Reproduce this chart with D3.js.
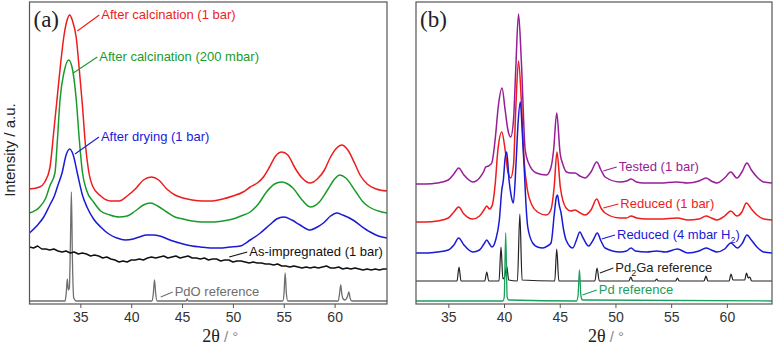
<!DOCTYPE html>
<html>
<head>
<meta charset="utf-8">
<script src="https://cdn.jsdelivr.net/npm/d3@7"></script>
<style>
  body { margin: 0; background: #fff; }
  svg { display: block; font-family: "Liberation Sans", Arial, sans-serif; }
</style>
</head>
<body>
<div id="xrd"></div>
<script>
// ---- panel (a): PdO catalysts, [2theta, intensity] ----
const calc1bar = [[30,115],[31,117],[31.5,122],[32,136],[32.4,174],[32.7,204],[33.1,244],[33.4,269],[33.7,284],[33.95,289],[34.2,284],[34.6,266],[34.9,234],[35.2,199],[35.5,159],[35.8,134],[36.2,118],[37,108],[38,103],[38.8,103],[39.6,108],[40.5,116],[41.2,124],[42,127],[42.7,124],[43.5,115],[44.3,109],[45.1,106],[46,104],[47,103],[48,103],[49,105],[50,108],[51,112],[51.7,117],[52.4,121],[53,127],[53.6,137],[54.2,148],[54.8,152],[55.4,149],[56.1,136],[56.8,126],[57.6,121],[58.3,125],[59,134],[59.6,147],[60.2,156],[60.7,159],[61.3,154],[62,140],[62.5,129],[63.2,120],[64.1,115],[65.15,113]];
const calc200 = [[30,91],[31,97],[31.6,106],[32,118],[32.5,131],[32.75,165],[33,204],[33.4,232],[33.85,244],[34.2,236],[34.6,204],[34.9,164],[35.2,132],[35.6,114],[36.3,102],[37,93],[37.9,89],[38.8,87],[39.6,88],[40.4,93],[41.2,99],[41.9,101],[42.6,98],[43.5,92],[44.3,87],[45.1,85],[46,83],[47,82],[48,82],[49,83],[50,85],[50.8,88],[51.7,92],[52.5,100],[53.3,112],[54.1,120],[54.8,122],[55.4,120],[55.9,116],[56.8,104],[57.6,97],[58.5,102],[59.3,114],[60,125],[60.5,129],[61.1,126],[62.1,112],[62.8,102],[63.4,97],[64.3,93],[65.15,91]];
const dried = [[30,71],[30.7,78],[31.4,87],[32,99],[32.4,107],[32.8,119],[33.2,131],[33.6,149],[33.95,155],[34.3,149],[34.7,131],[35.2,109],[35.65,97],[36.3,85],[37,77],[37.8,70],[38.6,66],[39.4,64],[40.2,65],[40.8,67],[41.5,69],[42.2,69],[42.8,68],[43.8,64],[45.1,60],[46,58],[46.8,57],[47.8,56],[48.7,56],[49.7,57],[50.7,58],[51.7,64],[52.7,71],[53.6,79],[54.3,85],[55,87],[55.8,84],[56.6,79],[57.6,74],[58.3,77],[58.9,81],[59.6,88],[60.2,91],[60.8,89],[61.8,84],[62.6,78],[63.5,72],[64.3,68],[65.15,66]];
const impregnated = [[30,57],[30.4,56],[30.8,58],[31.2,55],[31.6,55],[32,54],[32.4,55],[32.8,53],[33.2,52],[33.6,53],[34,51],[34.4,52],[34.8,50],[35.2,51],[35.6,50],[36,48],[36.4,49],[36.8,48],[37.2,46],[37.6,47],[38,45],[38.4,44],[38.8,42],[39.2,43],[39.6,42],[40,44],[40.4,44],[40.8,45],[41.2,44],[41.6,46],[42,47],[42.4,46],[42.8,47],[43.2,48],[43.6,46],[44,47],[44.4,48],[44.8,46],[45.2,47],[45.6,48],[46,46],[46.4,46],[46.8,45],[47.2,46],[47.6,44],[48,45],[48.4,45],[48.8,43],[49.2,44],[49.6,44],[50,42],[50.4,43],[50.8,43],[51.2,42],[51.6,41],[52,42],[52.4,41],[52.8,41],[53.2,40],[53.6,40],[54,39],[54.4,40],[54.8,38],[55.2,38],[55.6,37],[56,38],[56.4,37],[56.8,36],[57.2,37],[57.6,36],[58,37],[58.4,36],[58.8,37],[59.2,38],[59.6,36],[60,36],[60.4,37],[60.8,35],[61.2,36],[61.6,35],[62,36],[62.4,35],[62.8,34],[63.2,35],[63.6,34],[64,35],[64.4,34],[64.8,35],[65.15,35]];
const pdoRef = [[30,3],[33.5,3],[33.62,12],[33.72,25],[33.82,14],[33.92,16],[34.02,60],[34.12,112],[34.22,45],[34.35,6],[34.6,3],[42.05,3],[42.17,10],[42.29,24],[42.41,10],[42.55,3],[45.4,3],[45.5,5],[45.6,3],[54.9,3],[55.02,10],[55.14,31],[55.26,10],[55.4,3],[60.35,3],[60.48,10],[60.6,19],[60.72,9],[60.85,5],[61,4],[61.28,8],[61.4,12],[61.52,6],[61.7,3],[65.15,3]];

// ---- panel (b): Pd2Ga catalysts ----
const tested = [[32.1,120],[33,120],[34,121],[35,124],[35.5,130],[35.93,136],[36.4,129],[37.19,122],[37.8,126],[38.2,133],[38.35,137],[38.6,138],[38.9,141],[39.2,164],[39.5,199],[39.82,216],[40.1,194],[40.35,174],[40.6,167],[40.85,184],[41.05,234],[41.3,290],[41.55,244],[41.9,154],[42.2,141],[42.9,131],[43.8,129],[44.2,136],[44.45,154],[44.73,191],[45.03,151],[45.3,139],[45.6,132],[46,131],[46.37,131],[46.8,128],[47.27,126],[47.8,132],[48.32,142],[48.7,134],[49.07,127],[50.4,122],[51,123],[51.4,125],[51.9,122],[52.5,121],[54,121],[55.5,122],[56.5,121],[57.5,123],[58.13,126],[58.6,123],[59.1,121],[59.8,126],[60.35,132],[60.9,126],[61.35,132],[61.8,141],[62.2,134],[62.7,127],[63.3,122],[64.05,121]];
const reduced1bar = [[32.1,82],[33,82],[34,83],[35,86],[35.5,92],[35.93,97],[36.4,90],[37.19,85],[37.8,88],[38.2,94],[38.45,98],[38.7,95],[38.95,99],[39.2,119],[39.45,154],[39.8,172],[40.1,154],[40.35,132],[40.6,126],[40.85,139],[41.05,194],[41.3,243],[41.55,204],[41.8,144],[42.1,114],[42.5,99],[43,92],[43.8,89],[44.2,94],[44.5,117],[44.75,152],[45.05,117],[45.57,96],[46,93],[46.37,94],[46.7,92],[47.27,89],[47.8,94],[48.32,105],[48.7,96],[49.07,91],[50.4,86],[51,86],[51.4,88],[51.9,86],[52.8,85],[54,85],[55.56,86],[56.5,84],[57.5,85],[58.13,88],[58.6,86],[59.1,84],[59.8,88],[60.35,93],[60.9,88],[61.35,92],[61.75,101],[62.2,95],[62.7,89],[63.3,85],[64.05,84]];
const reducedH2 = [[32.1,51],[33,51],[34,52],[35,54],[35.5,59],[35.93,66],[36.4,59],[37.19,52],[37.8,54],[38.2,60],[38.45,64],[38.7,60],[38.92,57],[39.25,64],[39.58,84],[39.8,114],[39.94,124],[40.1,146],[40.24,152],[40.45,124],[40.63,109],[40.84,101],[41.08,141],[41.25,179],[41.46,202],[41.65,169],[41.82,134],[42,94],[42.13,77],[42.57,61],[43,57],[43.47,56],[43.9,58],[44.22,61],[44.52,91],[44.7,107],[44.8,109],[44.95,99],[45.12,91],[45.35,74],[45.57,64],[46.17,56],[46.5,64],[46.8,72],[47.1,66],[47.6,58],[48,64],[48.37,71],[48.7,63],[49.07,56],[50.4,52],[51,53],[51.4,56],[51.8,53],[52.8,52],[53.7,53],[54.5,52],[55.56,55],[56.5,51],[57.5,53],[58.13,56],[58.6,54],[59.1,52],[59.8,55],[60.35,61],[60.95,56],[61.4,61],[61.8,69],[62.2,64],[62.7,57],[63.3,52],[64.05,51]];
const pd2gaRef = [[32.1,23],[35.78,23],[35.96,37],[36.14,23],[38.27,23],[38.45,32],[38.63,23],[39.55,23],[39.73,57],[39.9,25],[40.05,27],[40.24,38],[40.42,24],[41.2,23],[41.42,90],[41.62,24],[44.55,23],[44.73,55],[44.92,23],[48.15,23],[48.35,36],[48.55,23],[51.2,23],[51.38,27],[51.55,23],[53.55,23],[53.7,25],[53.85,23],[55.4,23],[55.56,26],[55.72,23],[57.95,23],[58.12,28],[58.3,23],[60.2,23],[60.37,30],[60.55,24],[61.6,24],[61.76,31],[61.92,26],[62.05,27],[62.22,23],[64.05,23]];
const pdRef = [[32.1,3],[39.9,3],[40.02,7],[40.15,71],[40.28,7],[40.42,4],[46.5,3],[46.64,8],[46.77,34],[46.9,8],[47.05,4],[64.05,3]];

const xTicks = [35, 40, 45, 50, 55, 60];

// panel setup: domain, pixel range, curves, labels
// label: [leader start], [leader end] in (2theta, intensity), then text
const panels = [
  {
    id: "a", tag: "(a)",
    domain: [30, 65.15], range: [29.5, 387],
    series: [
      {data: pdoRef, color: "#6e6e6e", w: 1.3},
      {data: impregnated, color: "#111", w: 1.4, raw: true},
      {data: dried, color: "#1a1ad6", w: 1.5},
      {data: calc200, color: "#1b9a2c", w: 1.5},
      {data: calc1bar, color: "#ee1c1c", w: 1.5}
    ],
    labels: [
      {from: [34.70, 273], to: [36.86, 289], text: "After calcination (1 bar)", color: "#ee1c1c"},
      {from: [34.31, 231], to: [36.67, 247], text: "After calcination (200 mbar)", color: "#1b9a2c"},
      {from: [34.47, 150], to: [36.83, 167], text: "After drying (1 bar)", color: "#1a1ad6"},
      {from: [49.64, 47], to: [51.41, 52], text: "As-impregnated (1 bar)", color: "#111"},
      {from: [42.90, 7], to: [44.08, 12], text: "PdO reference", color: "#6e6e6e"}
    ]
  },
  {
    id: "b", tag: "(b)",
    domain: [32.1, 64.05], range: [416, 772],
    series: [
      {data: tested, color: "#961e96", w: 1.5},
      {data: reduced1bar, color: "#ee1c1c", w: 1.5},
      {data: reducedH2, color: "#1a1ad6", w: 1.5},
      {data: pd2gaRef, color: "#222", w: 1.2},
      {data: pdRef, color: "#1aa05a", w: 1.3}
    ],
    labels: [
      {from: [48.91, 133], to: [50.11, 137], text: "Tested (1 bar)", color: "#961e96"},
      {from: [48.91, 96], to: [50.26, 100], text: "Reduced (1 bar)", color: "#ee1c1c"},
      {from: [48.77, 65], to: [49.96, 69], text: ["Reduced (4 mbar H", "2", ")"], color: "#1a1ad6"},
      {from: [48.61, 31], to: [49.81, 36], text: ["Pd", "2", "Ga reference"], color: "#222"},
      {from: [47.03, 9], to: [48.32, 14], text: "Pd reference", color: "#1aa05a"}
    ]
  }
];

const width = 775, height = 346;
const plotTop = 2, plotBottom = 304;

const svg = d3.select("#xrd").append("svg")
    .attr("width", width)
    .attr("height", height);

// intensity in arbitrary units, shared by both panels
const y = d3.scaleLinear().domain([0, 302]).range([plotBottom, plotTop]);

panels.forEach(p => {
  const x = d3.scaleLinear().domain(p.domain).range(p.range);
  const g = svg.append("g");

  g.append("clipPath").attr("id", "clip-" + p.id)
    .append("rect")
    .attr("x", p.range[0]).attr("y", plotTop)
    .attr("width", p.range[1] - p.range[0]).attr("height", plotBottom - plotTop);

  // smooth curves, except the noisy as-measured trace
  const smooth = d3.line().x(d => x(d[0])).y(d => y(d[1])).curve(d3.curveMonotoneX);
  const jagged = d3.line().x(d => x(d[0])).y(d => y(d[1]));

  g.append("g").attr("clip-path", "url(#clip-" + p.id + ")")
    .selectAll("path")
    .data(p.series)
    .enter().append("path")
    .attr("d", d => (d.raw ? jagged : smooth)(d.data))
    .attr("fill", "none")
    .attr("stroke", d => d.color)
    .attr("stroke-width", d => d.w)
    .attr("stroke-linejoin", "round");

  // leader lines + curve names
  p.labels.forEach(l => {
    g.append("line")
      .attr("x1", x(l.from[0])).attr("y1", y(l.from[1]))
      .attr("x2", x(l.to[0])).attr("y2", y(l.to[1]))
      .attr("stroke", l.color).attr("stroke-width", 1.1);
    const t = g.append("text")
      .attr("x", x(l.to[0]) + 2)
      .attr("y", y(l.to[1]) + 3.5)
      .attr("fill", l.color)
      .style("font-size", "13px");
    if (Array.isArray(l.text)) {
      t.append("tspan").text(l.text[0]);
      t.append("tspan").attr("dy", 4).style("font-size", "9px").text(l.text[1]);
      t.append("tspan").attr("dy", -4).text(l.text[2]);
    } else {
      t.text(l.text);
    }
  });

  // frame
  g.append("rect")
    .attr("x", p.range[0]).attr("y", plotTop)
    .attr("width", p.range[1] - p.range[0]).attr("height", plotBottom - plotTop)
    .attr("fill", "none")
    .attr("stroke", "#555")
    .attr("stroke-width", 1.2);

  const ax = g.append("g")
    .attr("transform", "translate(0," + plotBottom + ")")
    .call(d3.axisBottom(x).tickValues(xTicks).tickSize(4).tickPadding(4));
  ax.select(".domain").remove();
  ax.selectAll("line").attr("stroke", "#555");
  ax.selectAll("text")
    .attr("fill", "#333")
    .style("font-size", "14px")
    .style("font-family", "'Liberation Sans', Arial, sans-serif");

  // x title: 2θ / °
  const mid = (p.range[0] + p.range[1]) / 2;
  const xt = g.append("text")
    .attr("x", mid + 12)
    .attr("y", 342)
    .attr("text-anchor", "middle");
  xt.append("tspan").text("2θ")
    .style("font-family", "'Liberation Serif', 'Times New Roman', serif")
    .style("font-size", "18px").attr("fill", "#222");
  xt.append("tspan").text(" / °")
    .style("font-size", "15px").attr("fill", "#888");

  // panel tag
  g.append("text")
    .attr("x", p.range[0] + 4)
    .attr("y", 27)
    .style("font-family", "'Liberation Serif', 'Times New Roman', serif")
    .style("font-size", "23px")
    .attr("fill", "#222")
    .text(p.tag);
});

svg.append("text")
  .attr("transform", "translate(15,150) rotate(-90)")
  .attr("text-anchor", "middle")
  .attr("fill", "#222")
  .style("font-size", "15px")
  .text("Intensity / a.u.");
</script>
</body>
</html>
